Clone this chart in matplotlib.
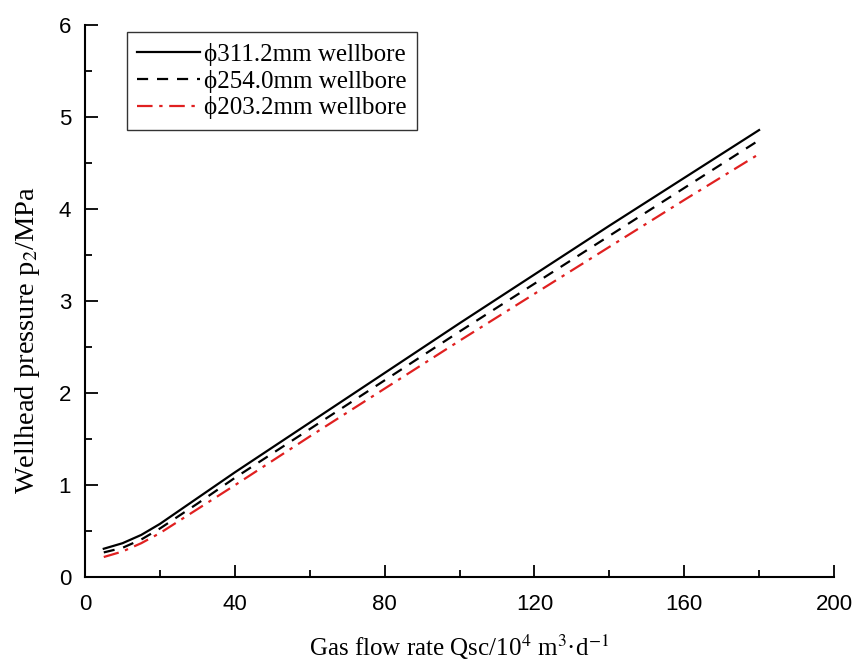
import matplotlib
matplotlib.use('Agg')
import matplotlib.pyplot as plt
from matplotlib.ticker import MultipleLocator

# gas flow rate, 10^4 m3/d
q = [5, 10, 15, 20, 30, 40, 60, 80, 100, 120, 140, 160, 180]
# wellhead pressure, MPa
p_311 = [0.31, 0.37, 0.46, 0.58, 0.86, 1.14, 1.68, 2.22, 2.76, 3.29, 3.82, 4.34, 4.86]
p_254 = [0.27, 0.32, 0.41, 0.53, 0.80, 1.08, 1.61, 2.14, 2.67, 3.19, 3.71, 4.23, 4.75]
p_203 = [0.22, 0.28, 0.37, 0.48, 0.74, 1.00, 1.53, 2.05, 2.57, 3.08, 3.59, 4.10, 4.60]
labels = ['ϕ311.2mm wellbore', 'ϕ254.0mm wellbore', 'ϕ203.2mm wellbore']

plt.rcParams['mathtext.fontset'] = 'stix'

fig = plt.figure(figsize=(8.53, 6.62), dpi=100)
ax = fig.add_axes([0.0997, 0.128, 0.878, 0.834])

ax.plot(q, p_311, color='black', lw=1.6, ls='-', label=labels[0])
ax.plot(q, p_254, color='black', lw=1.6, ls=(0, (5, 4)), label=labels[1])
ax.plot(q, p_203, color='#e02020', lw=1.6, ls=(0, (7, 3, 1.5, 3)), label=labels[2])

ax.set_xlim(0, 200)
ax.set_ylim(0, 6)
ax.xaxis.set_major_locator(MultipleLocator(40))
ax.xaxis.set_minor_locator(MultipleLocator(20))
ax.yaxis.set_major_locator(MultipleLocator(1))
ax.yaxis.set_minor_locator(MultipleLocator(0.5))
ax.tick_params(which='major', direction='in', length=9, width=1.3, labelsize=16)
ax.tick_params(axis='x', which='major', pad=12)
ax.tick_params(axis='y', which='major', pad=10)
ax.tick_params(which='minor', direction='in', length=5, width=1.3)
for lab in ax.get_xticklabels() + ax.get_yticklabels():
    lab.set_family('Liberation Sans')

ax.spines['top'].set_visible(False)
ax.spines['right'].set_visible(False)
ax.spines['left'].set_linewidth(1.5)
ax.spines['bottom'].set_linewidth(1.5)

ax.set_xlabel('Gas flow rate Qsc/10$^4$ m$^3$·d$^{-1}$', family='Liberation Serif', fontsize=18)
ax.set_ylabel('Wellhead pressure p$_2$/MPa', family='Liberation Serif', fontsize=20.5)
ax.xaxis.set_label_coords(0.5, -0.1)
ax.yaxis.set_label_coords(-0.057, 0.43)

leg = ax.legend(loc='upper left', bbox_to_anchor=(0.056, 0.987), prop={'family': 'Liberation Serif', 'size': 18},
                frameon=True, fancybox=False, handlelength=2.5, borderpad=0.42, labelspacing=0.15, handletextpad=0.15,
                borderaxespad=0)
leg.get_frame().set_edgecolor('black')
leg.get_frame().set_linewidth(1.0)

fig.savefig('out.png', dpi=100)
